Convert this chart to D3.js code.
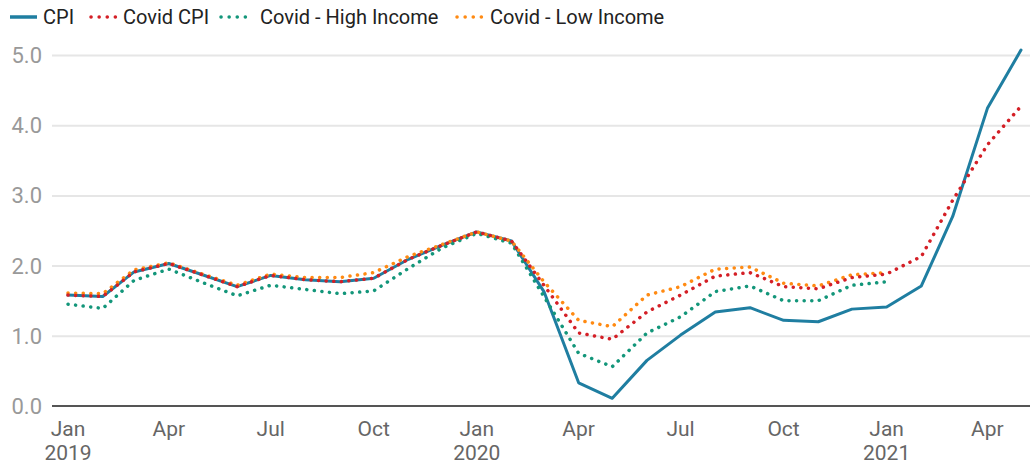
<html>
<head>
  <meta charset="UTF-8">
  <script src="https://d3js.org/d3.v7.min.js"></script>
  <style>
    body { margin: 0; background: #fff; font-family: Roboto, "Noto Sans", sans-serif; }
    .gridlines line { stroke: #e6e6e6; stroke-width: 2; }
    .gridlines .domain { stroke: none; }
  </style>
</head>
<body>
  <svg id="chart" width="1030" height="465"></svg>
  <script>
    // months from Jan 2019 to May 2021
    const months = d3.timeMonths(new Date(2019, 0, 1), new Date(2021, 5, 1));

    const cpi = [1.58, 1.56, 1.91, 2.03, 1.87, 1.70, 1.86, 1.80, 1.77, 1.82, 2.09, 2.29,
      2.48, 2.35, 1.63, 0.33, 0.11, 0.65, 1.01, 1.34, 1.40, 1.22, 1.20, 1.38,
      1.41, 1.71, 2.70, 4.24, 5.07];
    const covidCpi = [1.58, 1.56, 1.91, 2.03, 1.87, 1.70, 1.86, 1.80, 1.77, 1.82, 2.09, 2.29,
      2.48, 2.35, 1.72, 1.04, 0.95, 1.34, 1.58, 1.85, 1.90, 1.70, 1.67, 1.83,
      1.88, 2.13, 2.93, 3.72, 4.27];
    const highIncome = [1.45, 1.39, 1.79, 1.95, 1.76, 1.57, 1.72, 1.66, 1.60, 1.64, 1.96, 2.25,
      2.46, 2.32, 1.56, 0.75, 0.56, 1.04, 1.27, 1.63, 1.71, 1.50, 1.50, 1.72,
      1.77];
    const lowIncome = [1.61, 1.60, 1.94, 2.04, 1.88, 1.72, 1.88, 1.83, 1.83, 1.90, 2.13, 2.30,
      2.48, 2.35, 1.77, 1.22, 1.13, 1.58, 1.70, 1.95, 1.98, 1.75, 1.71, 1.87,
      1.90];
    const yTicks = [0, 1, 2, 3, 4, 5];

    const series = [
      { name: "CPI", values: cpi, color: "#1f7ea1", dotted: false },
      { name: "Covid CPI", values: covidCpi, color: "#d41f26", dotted: true },
      { name: "Covid - High Income", values: highIncome, color: "#13967a", dotted: true },
      { name: "Covid - Low Income", values: lowIncome, color: "#ff8a12", dotted: true }
    ];

    const svg = d3.select("svg#chart");
    const margins = { left: 52 };
    const width = 1030;

    const x = d3.scaleTime()
      .domain([months[0], months[months.length - 1]])
      .range([68, 1021]);
    const y = d3.scaleLinear().domain([0, 5]).range([406, 55]);

    // gridlines
    svg.append("g").attr("class", "gridlines")
      .attr("transform", `translate(${width},0)`)
      .call(d3.axisLeft(y).tickValues(yTicks.slice(1)).tickFormat("").tickSize(width - margins.left));

    // y labels
    svg.append("g").selectAll("text").data(yTicks).join("text")
      .attr("x", 42).attr("y", d => y(d) + 8)
      .attr("text-anchor", "end")
      .attr("font-size", 22).attr("fill", "#999")
      .text(d => d.toFixed(1));

    // baseline
    svg.append("line")
      .attr("x1", margins.left).attr("x2", width)
      .attr("y1", y(0)).attr("y2", y(0))
      .attr("stroke", "#555").attr("stroke-width", 2);

    // x labels
    const xTicks = months.filter((d, i) => i % 3 === 0);
    const xl = svg.append("g").selectAll("text").data(xTicks).join("text")
      .attr("x", d => x(d)).attr("y", 436)
      .attr("text-anchor", "middle")
      .attr("font-size", 21).attr("fill", "#666");
    xl.append("tspan").text(d => d3.timeFormat("%b")(d));
    xl.filter(d => d.getMonth() === 0).append("tspan")
      .attr("x", d => x(d)).attr("dy", 24)
      .text(d => d.getFullYear());

    // lines
    const line = d3.line().x((d, i) => x(months[i])).y(d => y(d));
    const drawOrder = [0, 2, 3, 1];
    drawOrder.forEach(k => {
      const s = series[k];
      svg.append("path")
        .datum(s.values)
        .attr("d", line)
        .attr("fill", "none")
        .attr("stroke", s.color)
        .attr("stroke-width", s.dotted ? 3.5 : 3)
        .attr("stroke-linecap", "round")
        .attr("stroke-linejoin", "round")
        .attr("stroke-dasharray", s.dotted ? "0.1 7.5" : null);
    });

    // legend
    const legendX = [10, 90, 220, 456];
    const legend = svg.append("g").selectAll("g").data(series).join("g")
      .attr("transform", (d, i) => `translate(${legendX[i]},17)`);
    legend.append("line")
      .attr("x1", d => d.dotted ? 1 : 0).attr("x2", 27).attr("y1", 0).attr("y2", 0)
      .attr("stroke", d => d.color)
      .attr("stroke-width", 3.5)
      .attr("stroke-linecap", d => d.dotted ? "round" : "butt")
      .attr("stroke-dasharray", d => d.dotted ? "0.1 8" : null);
    legend.append("text")
      .attr("x", (d, i) => [33, 33, 40, 34][i]).attr("y", 7)
      .attr("font-size", 20).attr("fill", "#222")
      .text(d => d.name);
  </script>
</body>
</html>
